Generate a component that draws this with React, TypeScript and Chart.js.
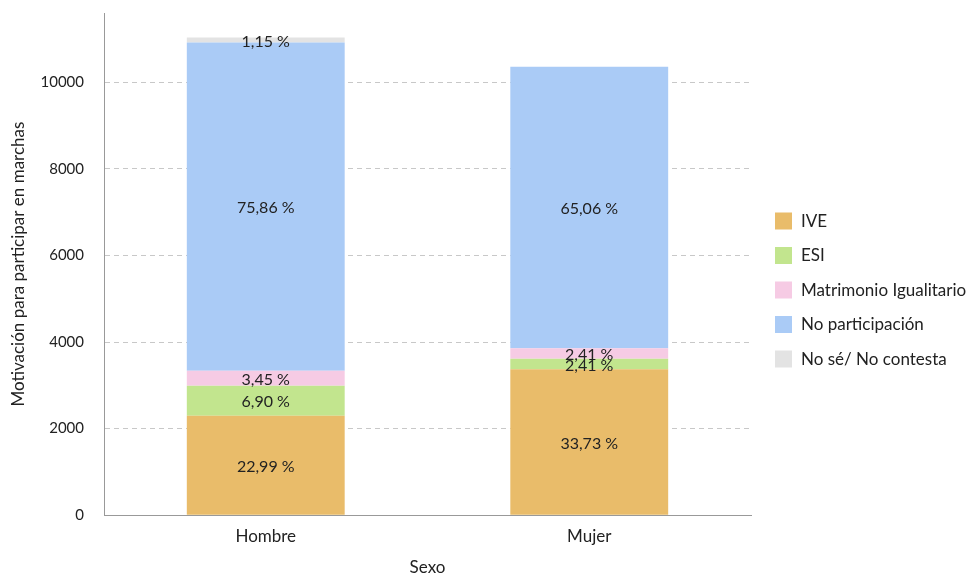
import React, { useEffect, useRef } from "react";
import { Chart, registerables } from "chart.js";

Chart.register(...registerables);

const categories = ["Hombre", "Mujer"];
const seriesNames = ["IVE", "ESI", "Matrimonio Igualitario", "No participación", "No sé/ No contesta"];
const ive = [2299, 3373];
const esi = [690, 241];
const matrimonio = [345, 241];
const noParticipacion = [7586, 6506];
const noSe = [115, 0];
const colors = ["#E9BC6A", "#C2E58E", "#F6CBE4", "#AACBF6", "#E3E3E3"];
const yTicks = [0, 2000, 4000, 6000, 8000, 10000];

const FONT = "Lato, 'Open Sans', sans-serif";

const labelPlugin = {
  id: "segLabels",
  afterDatasetsDraw(chart: any) {
    const ctx = chart.ctx;
    ctx.save();
    ctx.font = `16px ${FONT}`;
    ctx.fillStyle = "#222";
    ctx.textAlign = "center";
    ctx.textBaseline = "middle";
    chart.data.datasets.forEach((ds: any, di: number) => {
      const meta = chart.getDatasetMeta(di);
      meta.data.forEach((el: any, i: number) => {
        const v = ds.data[i];
        if (!v) return;
        const y = (el.y + el.base) / 2 + 1.5;
        ctx.fillText((v / 100).toFixed(2).replace(".", ",") + " %", el.x, y);
      });
    });
    ctx.restore();
  },
};

const legendPlugin = {
  id: "sideLegend",
  afterDraw(chart: any) {
    const ctx = chart.ctx;
    const area = chart.chartArea;
    const boxX = area.right + 24;
    const box = 17;
    const step = 34.5;
    const midY = chart.height / 2 + 2;
    ctx.save();
    ctx.font = `17px ${FONT}`;
    ctx.textBaseline = "middle";
    ctx.textAlign = "left";
    chart.data.datasets.forEach((ds: any, i: number) => {
      const cy = midY + (i - (chart.data.datasets.length - 1) / 2) * step;
      ctx.fillStyle = ds.backgroundColor;
      ctx.fillRect(boxX, cy - box / 2, box, box);
      ctx.fillStyle = "#222";
      ctx.fillText(ds.label, boxX + box + 9, cy + 0.5);
    });
    ctx.restore();
  },
};

export default function App() {
  const ref = useRef<HTMLCanvasElement>(null);
  useEffect(() => {
    const seriesData = [ive, esi, matrimonio, noParticipacion, noSe];
    const chart = new Chart(ref.current!, {
      type: "bar",
      data: {
        labels: categories,
        datasets: seriesNames.map((name, i) => ({
          label: name,
          data: seriesData[i],
          backgroundColor: colors[i],
          borderWidth: 0,
          categoryPercentage: 0.8,
          barPercentage: 0.61,
        })),
      },
      options: {
        animation: false,
        responsive: false,
        maintainAspectRatio: false,
        layout: { padding: { top: 13, right: 217, left: 8, bottom: -2 } },
        plugins: {
          tooltip: { enabled: false },
          legend: { display: false },
        },
        scales: {
          x: {
            stacked: true,
            grid: { display: false, drawTicks: false },
            border: { color: "#999", width: 1 },
            ticks: { color: "#222", font: { family: FONT, size: 17 }, padding: 11 },
            title: { display: true, text: "Sexo", color: "#222", font: { family: FONT, size: 17 }, padding: { top: 0, bottom: 0 } },
          },
          y: {
            stacked: true,
            min: 0,
            max: 11600,
            afterBuildTicks: (axis: any) => {
              axis.ticks = yTicks.map((v) => ({ value: v }));
            },
            afterFit: (s: any) => {
              s.paddingTop = 0;
              s.width = 96;
            },
            grid: { color: "#c8c8c8", drawTicks: false },
            border: { color: "#999", width: 1, dash: [5, 4] },
            ticks: {
              color: "#222",
              font: { family: FONT, size: 15 },
              padding: 20,
              callback: (v: any) => String(v),
            },
            title: {
              display: true,
              text: "Motivación para participar en marchas",
              color: "#222",
              font: { family: FONT, size: 17 },
              padding: { top: 0, bottom: 12 },
            },
          },
        },
      },
      plugins: [labelPlugin, legendPlugin],
    } as any);
    return () => chart.destroy();
  }, []);
  return (
    <div style={{ position: "fixed", left: 0, top: 0, width: 968, height: 576, background: "#fff" }}>
      <canvas ref={ref} width={968} height={576} style={{ width: 968, height: 576 }} />
    </div>
  );
}
